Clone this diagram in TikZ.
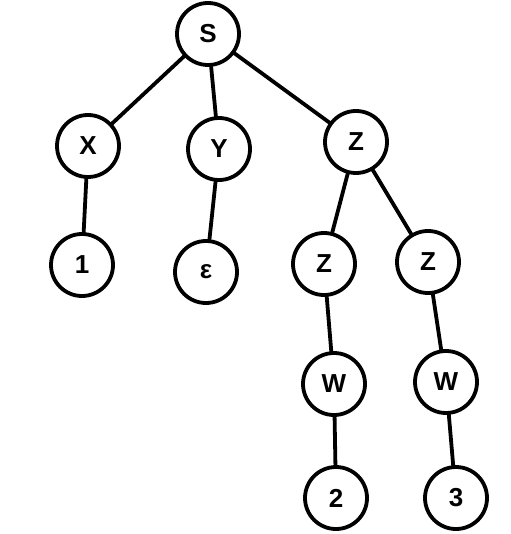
\documentclass[tikz,border=0pt]{standalone}
\usepackage{fontspec}
\setmainfont{Liberation Sans}
\begin{document}
\begin{tikzpicture}[x=1pt,y=-1pt,
  tn/.style={circle,draw=black,line width=3.8pt,minimum size=62pt,inner sep=0pt,
    font=\fontsize{26pt}{28pt}\selectfont\bfseries},
  ed/.style={line width=3.8pt,shorten <=-2pt,shorten >=-2pt}]
\useasboundingbox (0,0) rectangle (510,534);
\node[tn] (S) at (208,34) {S};
\node[tn] (X) at (88,146) {X};
\node[tn] (Y) at (219,149) {Y};
\node[tn] (Z) at (356,142) {Z};
\node[tn] (n1) at (82,265) {1};
\node[tn] (eps) at (206,272) {ε};
\node[tn] (ZL) at (324,264) {Z};
\node[tn] (ZR) at (428,262) {Z};
\node[tn] (WL) at (334,384) {W};
\node[tn] (WR) at (446,382) {W};
\node[tn] (n2) at (336,498) {2};
\node[tn] (n3) at (456,498) {3};
\draw[ed] (S) -- (X);
\draw[ed] (S) -- (Y);
\draw[ed] (S) -- (Z);
\draw[ed] (X) -- (n1);
\draw[ed] (Y) -- (eps);
\draw[ed] (Z) -- (ZL);
\draw[ed] (Z) -- (ZR);
\draw[ed] (ZL) -- (WL);
\draw[ed] (ZR) -- (WR);
\draw[ed] (WL) -- (n2);
\draw[ed] (WR) -- (n3);
\end{tikzpicture}
\end{document}
